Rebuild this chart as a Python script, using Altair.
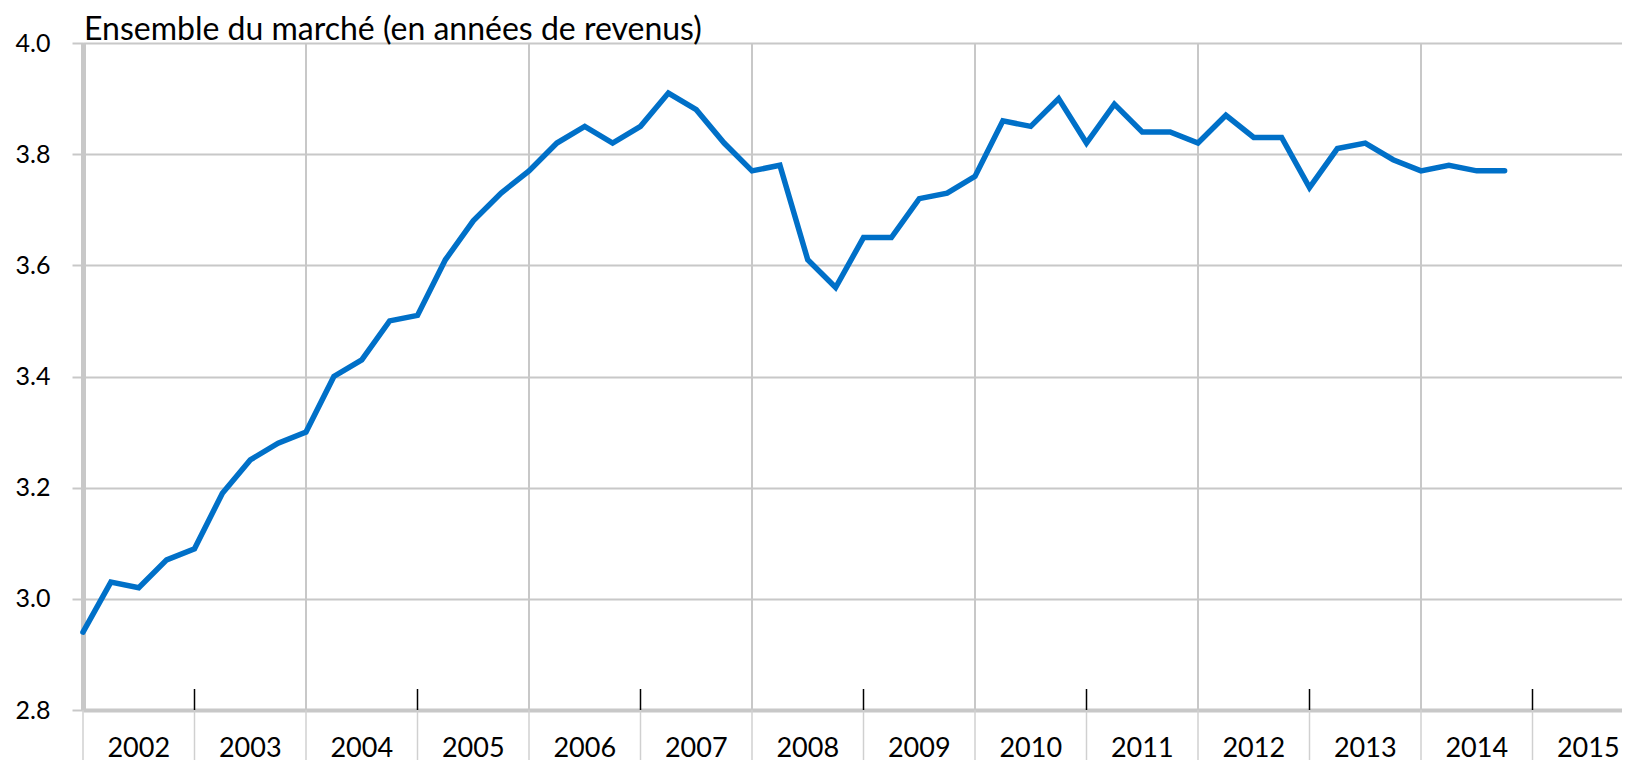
import altair as alt
import pandas as pd

# Quarterly values, 2002 Q1 .. 2014 Q4
first_year = 2002
values = [
    2.94, 3.03, 3.02, 3.07,   # 2002
    3.09, 3.19, 3.25, 3.28,   # 2003
    3.30, 3.40, 3.43, 3.50,   # 2004
    3.51, 3.61, 3.68, 3.73,   # 2005
    3.77, 3.82, 3.85, 3.82,   # 2006
    3.85, 3.91, 3.88, 3.82,   # 2007
    3.77, 3.78, 3.61, 3.56,   # 2008
    3.65, 3.65, 3.72, 3.73,   # 2009
    3.76, 3.86, 3.85, 3.90,   # 2010
    3.82, 3.89, 3.84, 3.84,   # 2011
    3.82, 3.87, 3.83, 3.83,   # 2012
    3.74, 3.81, 3.82, 3.79,   # 2013
    3.77, 3.78, 3.77, 3.77,   # 2014
]
y_ticks = [2.8, 3.0, 3.2, 3.4, 3.6, 3.8, 4.0]
label_years = list(range(2002, 2016))
grid_years = [2002, 2004, 2006, 2008, 2010, 2012, 2014]
tick_years = [2003, 2005, 2007, 2009, 2011, 2013, 2015]
title_text = ["Ensemble du marché (en années de revenus)"]

FONT = "Lato"
GRID = "#c8c8c8"
LINE = "#0070c8"
PX_PER_YEAR = 111.5
W, H = 1539, 667
x_domain = [2002, 2002 + W / PX_PER_YEAR]

df = pd.DataFrame({"t": [first_year + i / 4 for i in range(len(values))], "v": values})
df_grid = pd.DataFrame({"t": grid_years})
df_bound = pd.DataFrame({"t": label_years})
df_ticks = pd.DataFrame({"t": tick_years})
df_labels = pd.DataFrame({"t": [y + 0.5 for y in label_years], "lab": [str(y) for y in label_years]})
df_title = pd.DataFrame({"txt": title_text})

xs = alt.Scale(domain=x_domain, nice=False, zero=False)
ys = alt.Scale(domain=[2.8, 4.0], nice=False, zero=False)

x_axis = alt.Axis(labels=False, ticks=False, grid=False, title=None,
                  domainColor=GRID, domainWidth=4)
y_axis = alt.Axis(values=y_ticks, format=".1f", title=None, grid=True,
                  gridColor=GRID, gridWidth=2, tickColor=GRID, tickSize=11,
                  tickWidth=2, domainColor=GRID, domainWidth=5,
                  labelFont=FONT, labelFontSize=25, labelColor="black",
                  labelPadding=22)

line = alt.Chart(df).mark_line(color=LINE, strokeWidth=5.5, strokeJoin="miter", strokeCap="round").encode(
    x=alt.X("t:Q", scale=xs, axis=x_axis),
    y=alt.Y("v:Q", scale=ys, axis=y_axis),
)

vgrid = alt.Chart(df_grid).mark_rule(color=GRID, strokeWidth=2).encode(
    x=alt.X("t:Q", scale=xs), y=alt.value(0), y2=alt.value(H)
)

bounds = alt.Chart(df_bound).mark_rule(color="#d0d0d0", strokeWidth=1.5, clip=False).encode(
    x=alt.X("t:Q", scale=xs), y=alt.value(H), y2=alt.value(H + 70)
)

ticks = alt.Chart(df_ticks).mark_rule(color="black", strokeWidth=1.5).encode(
    x=alt.X("t:Q", scale=xs), y=alt.value(H - 21), y2=alt.value(H)
)

labels = alt.Chart(df_labels).mark_text(font=FONT, fontSize=27, color="black",
                                        baseline="alphabetic", align="center", clip=False).encode(
    x=alt.X("t:Q", scale=xs), y=alt.value(714), text="lab:N"
)

title = alt.Chart(df_title).mark_text(font=FONT, fontSize=32, color="black",
                                      baseline="alphabetic", align="left").encode(
    x=alt.value(1), y=alt.value(-3), text="txt:N"
)

chart = alt.layer(vgrid, bounds, ticks, line, labels, title).properties(
    width=W, height=H,
    padding={"left": 75, "top": 35, "right": 0, "bottom": 52},
    autosize="none",
    background="white",
).configure_view(stroke=None)

chart.save("out.html", embed_options={"renderer": "svg", "actions": False})
